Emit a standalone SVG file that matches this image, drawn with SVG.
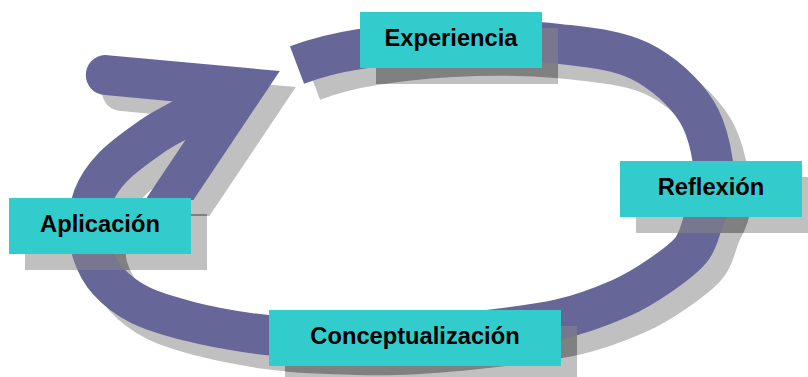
<svg xmlns="http://www.w3.org/2000/svg" xmlns:xlink="http://www.w3.org/1999/xlink" width="808" height="377" viewBox="0 0 808 377">
<style>
.box{fill:#33cccc}
.lbl{font-family:"Liberation Sans",Arial,sans-serif;font-weight:bold;font-size:23.7px;fill:#000;text-anchor:middle}
.sh{fill:#c0c0c0}
</style>
<defs>
<g id="arrow">
<path fill="none" d="M297,65 C317.2,57.4 332.8,53.2 360,49 C387.2,44.8 426.7,40.8 460,40 C493.3,39.2 530,40.5 560,44 C590,47.5 617.2,49.7 640,61 C662.8,72.3 684.5,91.8 697,112 C709.5,132.2 714,163.7 715,182 C716,200.3 707,210.7 703,222 C699,233.3 698.2,241.1 691,250 C683.8,258.9 671.8,267.4 660,275.5 C648.2,283.6 636.7,291.25 620,298.5 C603.3,305.75 585,313.4 560,319 C535,324.6 500,328.7 470,332 C440,335.3 408.3,338.1 380,339 C351.7,339.9 321.7,338.5 300,337.5 C278.3,336.5 268.3,335.7 250,333 C231.7,330.3 208.3,326.2 190,321.5 C171.7,316.8 153.7,311.75 140,305 C126.3,298.25 116,289.8 108,281 C100,272.2 95,261.3 92,252 C89,242.7 89.8,234.2 90,225 C90.2,215.8 89.2,206.7 93,197 C96.8,187.3 103.3,177 113,167 C122.7,157 139.5,145 151,137 C162.5,129 170.8,125.3 182,119 C193.2,112.7 206,105.7 218,99"/>
<path stroke="none" d="M105,54.92 L279.8,71 L193.4,200 L145.2,200 L209.1,104.7 L105,95.08 A20.1,20.1 0 0 1 105,54.92 Z"/>
</g>
<clipPath id="c-exp"><rect x="376" y="28" width="182" height="56"/></clipPath>
<clipPath id="c-ref"><rect x="636" y="177" width="182" height="56"/></clipPath>
<clipPath id="c-apl"><rect x="25" y="214" width="182" height="56"/></clipPath>
<clipPath id="c-con"><rect x="285" y="326" width="292" height="56"/></clipPath>
<g id="shfix">
<use xlink:href="#arrow" href="#arrow" transform="translate(16,16)" stroke="#808080" fill="#808080"/>
<use xlink:href="#arrow" href="#arrow" stroke="#78778f" fill="#78778f"/>
</g>
</defs>
<g id="connectors" stroke-width="40" stroke-linejoin="miter" stroke-miterlimit="10">
<use xlink:href="#arrow" href="#arrow" transform="translate(16,16)" stroke="#c0c0c0" fill="#c0c0c0"/>
<use xlink:href="#arrow" href="#arrow" stroke="#666699" fill="#666699"/>
</g>
<g id="node-experiencia">
<g clip-path="url(#c-exp)" stroke-width="40"><rect class="sh" x="376" y="28" width="182" height="56"/><use xlink:href="#shfix" href="#shfix"/></g>
<rect class="box" x="360" y="12" width="182" height="56"/>
<text class="lbl" x="451" y="45.5">Experiencia</text>
</g>
<g id="node-reflexion">
<g clip-path="url(#c-ref)" stroke-width="40"><rect class="sh" x="636" y="177" width="182" height="56"/><use xlink:href="#shfix" href="#shfix"/></g>
<rect class="box" x="620" y="161" width="182" height="56"/>
<text class="lbl" x="711" y="194.5">Reflexión</text>
</g>
<g id="node-aplicacion">
<g clip-path="url(#c-apl)" stroke-width="40"><rect class="sh" x="25" y="214" width="182" height="56"/><use xlink:href="#shfix" href="#shfix"/></g>
<rect class="box" x="9" y="198" width="182" height="56"/>
<text class="lbl" x="100" y="231.5">Aplicación</text>
</g>
<g id="node-conceptualizacion">
<g clip-path="url(#c-con)" stroke-width="40"><rect class="sh" x="285" y="326" width="292" height="56"/><use xlink:href="#shfix" href="#shfix"/></g>
<rect class="box" x="269" y="310" width="292" height="56"/>
<text class="lbl" x="415" y="343.5">Conceptualización</text>
</g>
</svg>
